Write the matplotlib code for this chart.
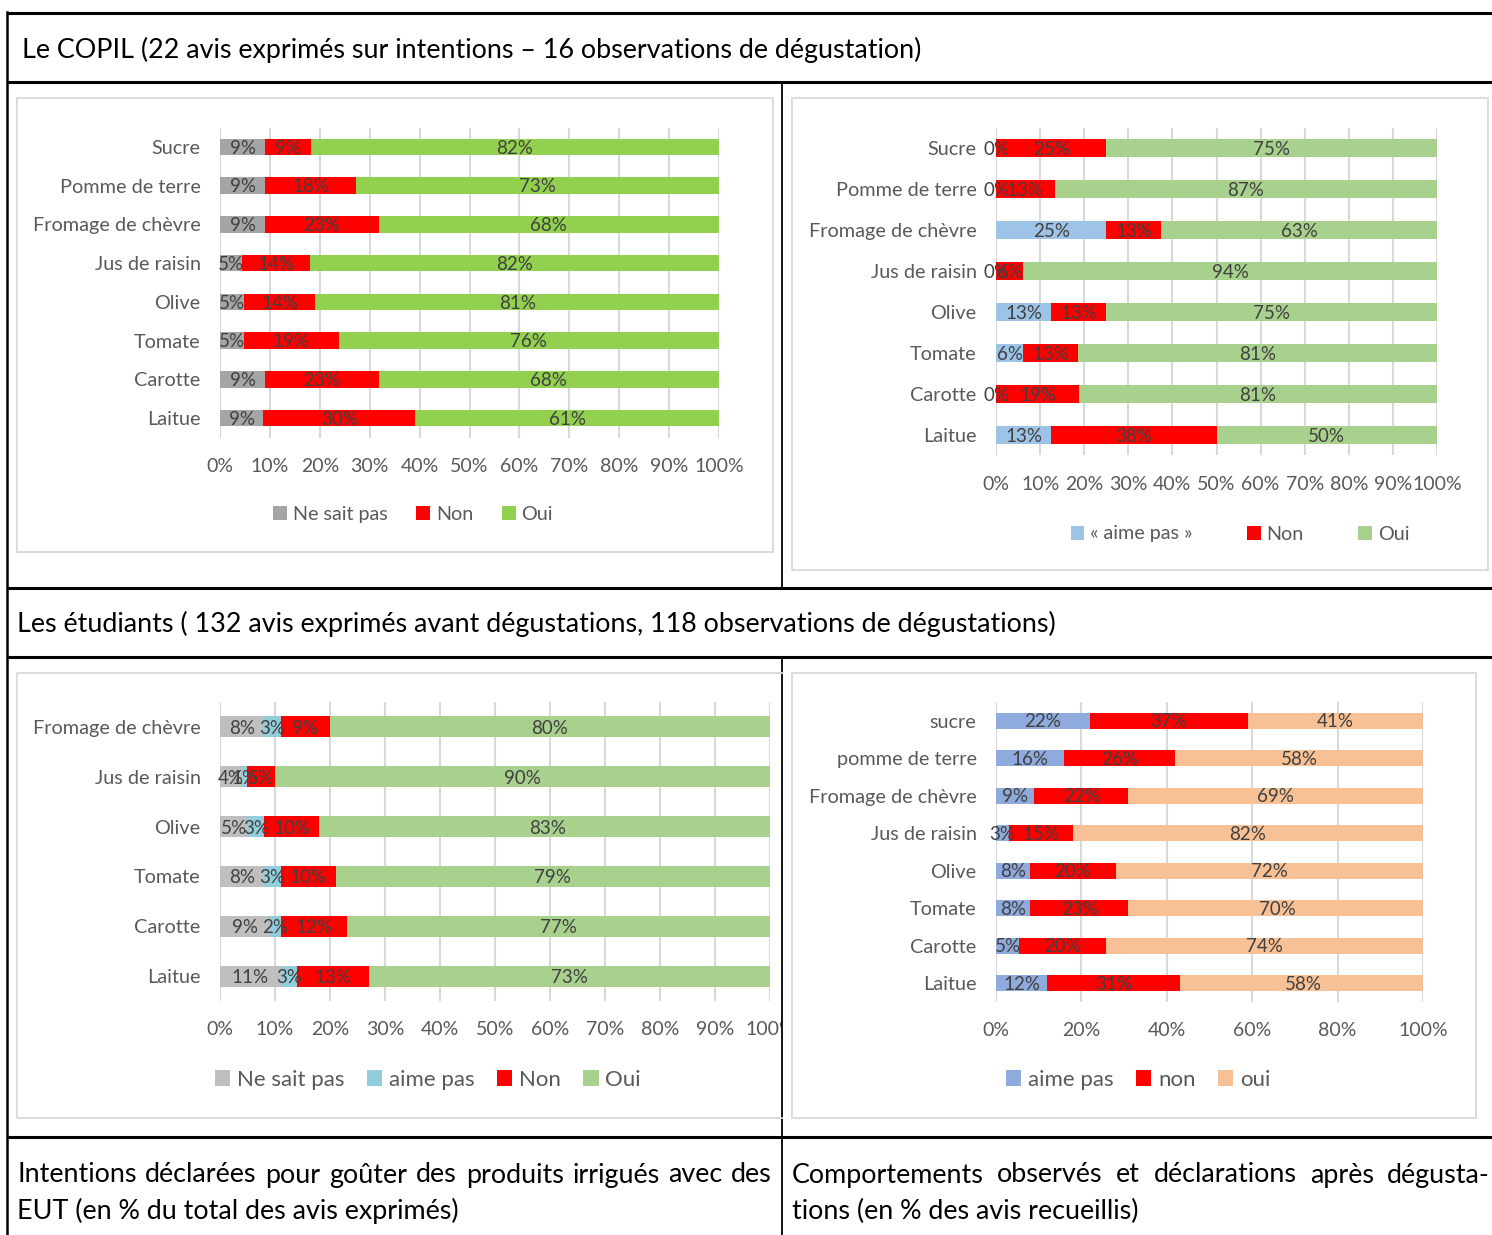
import matplotlib.pyplot as plt
from matplotlib.patches import Rectangle

W, H = 1492, 1235
plt.rcParams['font.family'] = ['Lato', 'DejaVu Sans']

# --- data ---------------------------------------------------------------
copil_int_cats = ['Sucre', 'Pomme de terre', 'Fromage de chèvre', 'Jus de raisin',
                  'Olive', 'Tomate', 'Carotte', 'Laitue']
copil_int_nsp = [9.1, 9.1, 9.1, 4.5, 4.8, 4.8, 9.1, 8.7]
copil_int_non = [9.1, 18.2, 22.7, 13.6, 14.3, 19.0, 22.7, 30.4]
copil_int_oui = [81.8, 72.7, 68.2, 81.8, 81.0, 76.2, 68.2, 60.9]

copil_obs_cats = copil_int_cats
copil_obs_aime_pas = [0, 0, 25, 0, 12.5, 6.2, 0, 12.5]
copil_obs_non = [25, 13.3, 12.5, 6.2, 12.5, 12.5, 18.8, 37.5]
copil_obs_oui = [75, 86.7, 62.5, 93.8, 75, 81.2, 81.2, 50]

etu_int_cats = ['Fromage de chèvre', 'Jus de raisin', 'Olive', 'Tomate', 'Carotte', 'Laitue']
etu_int_nsp = [8, 4, 5, 8, 9, 11]
etu_int_aime_pas = [3, 1, 3, 3, 2, 3]
etu_int_non = [9, 5, 10, 10, 12, 13]
etu_int_oui = [80, 90, 83, 79, 77, 73]

etu_obs_cats = ['sucre', 'pomme de terre', 'Fromage de chèvre', 'Jus de raisin',
                'Olive', 'Tomate', 'Carotte', 'Laitue']
etu_obs_aime_pas = [22, 16, 9, 3, 8, 8, 5.4, 12]
etu_obs_non = [37, 26, 22, 15, 20, 23, 20.3, 31]
etu_obs_oui = [41, 58, 69, 82, 72, 70, 74.3, 58]

ticks10 = list(range(0, 101, 10))
ticks20 = list(range(0, 101, 20))

# --- figure / page layout ----------------------------------------------
fig = plt.figure(figsize=(W / 100, H / 100), dpi=100)
bg = fig.add_axes([0, 0, 1, 1])
bg.set_xlim(0, W)
bg.set_ylim(H, 0)
bg.axis('off')

# table rules
for y in [13, 82, 588, 657, 1137]:
    bg.plot([7, W], [y, y], color='black', lw=2.2, solid_capstyle='butt')
bg.plot([7, 7], [12, H], color='black', lw=1.8)
bg.plot([782, 782], [82, 588], color='black', lw=1.3)
bg.plot([782, 782], [657, H], color='black', lw=1.3)

# chart frames
frame = dict(fill=False, edgecolor='#D9D9D9', lw=1.3)
bg.add_patch(Rectangle((17, 98), 756, 454, **frame))
bg.add_patch(Rectangle((792, 98), 696, 472, **frame))
bg.plot([782, 17, 17, 782], [673, 673, 1118, 1118], color='#D9D9D9', lw=1.3)
bg.add_patch(Rectangle((792, 673), 684, 445, **frame))

TFS = 19.4
# section titles
bg.text(22, 50, 'Le COPIL (22 avis exprimés sur intentions – 16 observations de dégustation)',
        fontsize=TFS, va='center', color='black')
bg.text(17, 624, 'Les étudiants ( 132 avis exprimés avant dégustations, 118 observations de dégustations)',
        fontsize=TFS, va='center', color='black')


def justify(line, x0, x1, y, fs):
    words = line.split(' ')
    texts = [bg.text(0, y, w, fontsize=fs, va='center', color='black') for w in words]
    r = fig.canvas.get_renderer()
    widths = [t.get_window_extent(r).width for t in texts]
    gap = (x1 - x0 - sum(widths)) / (len(words) - 1)
    x = x0
    for t, w in zip(texts, widths):
        t.set_x(x)
        x += w + gap


justify('Intentions déclarées pour goûter des produits irrigués avec des', 17, 772, 1175, TFS)
bg.text(17, 1211, 'EUT (en % du total des avis exprimés)', fontsize=TFS, va='center')
justify('Comportements observés et déclarations après dégusta-', 792, 1490, 1175, TFS)
bg.text(792, 1211, 'tions (en % des avis recueillis)', fontsize=TFS, va='center')


def pct(v):
    return f'{int(v + 0.5)}%'


def stacked(box, cats, series, names, colors, ticks, leg_xy, leg_fs, colsp, clip_x=None):
    x0, y0, x1, y1 = box
    ax = fig.add_axes([x0 / W, 1 - y1 / H, (x1 - x0) / W, (y1 - y0) / H])
    ypos = list(range(len(cats)))
    left = [0] * len(cats)
    for vals, name, col in zip(series, names, colors):
        bars = ax.barh(ypos, vals, left=left, height=0.42, color=col, label=name, zorder=2)
        for b, v in zip(bars, vals):
            ax.text(b.get_x() + b.get_width() / 2, b.get_y() + b.get_height() / 2 + 0.03,
                    pct(v), ha='center', va='center', fontsize=13.5, color='#404040', zorder=3)
        left = [l + v for l, v in zip(left, vals)]
    ax.set_xlim(0, 100)
    ax.set_ylim(len(cats) - 0.5, -0.5)
    ax.set_yticks(ypos)
    ax.set_yticklabels(cats)
    ax.set_xticks(ticks)
    ax.set_xticklabels([f'{t}%' for t in ticks])
    ax.tick_params(length=0, labelsize=14, labelcolor='#595959')
    ax.tick_params(axis='y', labelsize=14.3, pad=14)
    ax.tick_params(axis='x', pad=14.5)
    ax.grid(axis='x', color='#D9D9D9', lw=1.5, zorder=0)
    ax.set_axisbelow(True)
    for s in ax.spines.values():
        s.set_visible(False)
    ax.patch.set_alpha(0)
    if clip_x is not None:
        for lbl in ax.get_xticklabels():
            lbl.set_clip_on(True)
            lbl.set_clip_path(Rectangle((0, 0), clip_x, H, transform=None))
    ax.legend(loc='center', bbox_to_anchor=(leg_xy[0] / W, 1 - leg_xy[1] / H),
              bbox_transform=fig.transFigure, ncol=len(names), frameon=False,
              fontsize=leg_fs, labelcolor='#595959', handlelength=0.7, handleheight=0.7,
              handletextpad=0.3, columnspacing=colsp, borderpad=0)
    return ax


stacked((220, 127.5, 719, 437.5), copil_int_cats,
        [copil_int_nsp, copil_int_non, copil_int_oui],
        ['Ne sait pas', 'Non', 'Oui'], ['#A5A5A5', '#FF0000', '#92D050'],
        ticks10, (413, 514), 14.2, 1.45)

stacked((996, 127.5, 1437, 455.5), copil_obs_cats,
        [copil_obs_aime_pas, copil_obs_non, copil_obs_oui],
        ['« aime pas »', 'Non', 'Oui'], ['#9DC3E6', '#FF0000', '#A9D18E'],
        ticks10, (1240, 534), 14.2, 2.75)

stacked((220, 702, 770, 1001), etu_int_cats,
        [etu_int_nsp, etu_int_aime_pas, etu_int_non, etu_int_oui],
        ['Ne sait pas', 'aime pas', 'Non', 'Oui'],
        ['#BFBFBF', '#92CDDC', '#FF0000', '#A9D18E'],
        ticks10, (428, 1080), 16, 1.0, clip_x=781)

stacked((996, 702, 1423, 1002), etu_obs_cats,
        [etu_obs_aime_pas, etu_obs_non, etu_obs_oui],
        ['aime pas', 'non', 'oui'], ['#8FAADC', '#FF0000', '#F8C195'],
        ticks20, (1138, 1080), 16, 1.0)

fig.savefig('out.png', dpi=100)
